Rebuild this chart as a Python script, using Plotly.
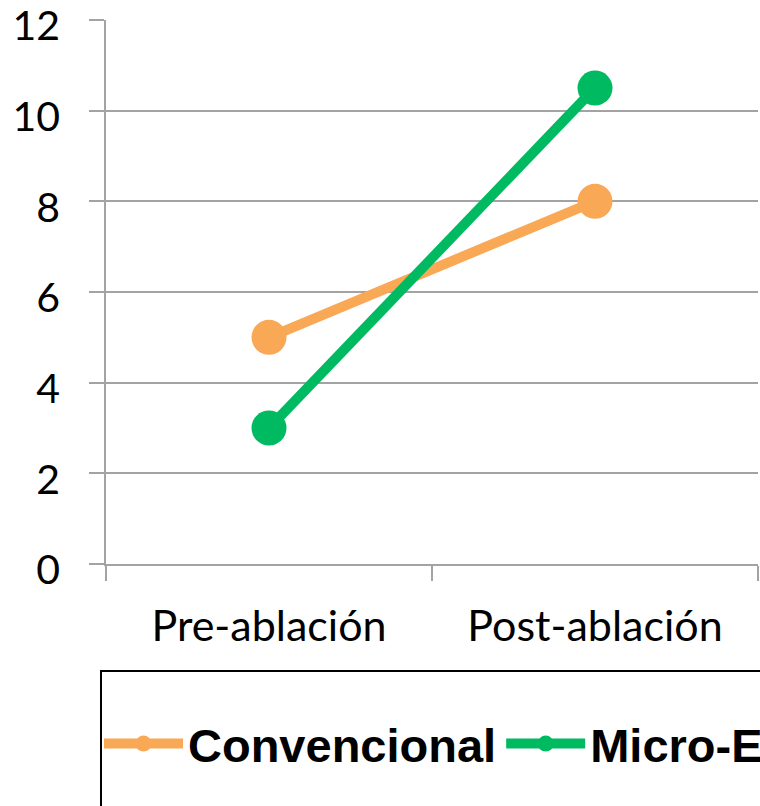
import plotly.graph_objects as go

categories = ["Pre-ablación", "Post-ablación"]
convencional = [5, 8]
micro_e = [3, 10.5]
y_ticks = [0, 2, 4, 6, 8, 10, 12]

ORANGE = "#F9A855"
GREEN = "#00BA61"
GRID = "#A3A3A3"

fig = go.Figure()
fig.add_trace(go.Scatter(
    x=categories, y=convencional, name="Convencional", mode="lines+markers",
    line=dict(color=ORANGE, width=10), marker=dict(color=ORANGE, size=35),
))
fig.add_trace(go.Scatter(
    x=categories, y=micro_e, name="Micro-E", mode="lines+markers",
    line=dict(color=GREEN, width=10), marker=dict(color=GREEN, size=35),
))

# The visible window is 760 px wide; the canvas is wider so the legend
# can run past the right edge (as in the cropped reference).
W, H = 900, 806
ml, mt, mb = 106, 20, 242
pw = 652
mr = W - ml - pw
ph = H - mt - mb

def px_x(p):
    return (p - ml) / pw

def px_y(p):
    return (H - mb - p) / ph

fig.update_layout(
    width=W, height=H,
    margin=dict(l=ml, r=mr, t=mt, b=mb, pad=0),
    paper_bgcolor="white", plot_bgcolor="white",
    font=dict(family="Lato, Carlito, sans-serif", size=41, color="black"),
    showlegend=True,
    legend=dict(
        orientation="h",
        x=px_x(99), xanchor="left",
        y=px_y(744), yanchor="middle",
        font=dict(family="Liberation Sans, Arial, sans-serif", size=47, color="black", weight="bold"),
        itemwidth=79,
        bgcolor="rgba(0,0,0,0)",
        borderwidth=0,
    ),
    shapes=[dict(
        type="rect", xref="paper", yref="paper",
        x0=px_x(101), x1=1.4, y0=-0.8, y1=px_y(671),
        line=dict(color="black", width=2), fillcolor="rgba(0,0,0,0)",
        layer="below",
    )],
)

fig.update_xaxes(
    type="category", range=[-0.5, 1.5], automargin=False,
    tickson="boundaries", ticks="outside", ticklen=15, tickwidth=1.5, tickcolor=GRID,
    showline=True, linecolor=GRID, linewidth=1.5,
    showgrid=False, zeroline=False,
    ticklabelstandoff=24,
    tickfont=dict(family="Lato, Carlito, sans-serif", size=43),
)
fig.update_yaxes(
    range=[0, 12], tickvals=y_ticks, ticktext=[str(v) for v in y_ticks],
    automargin=False,
    ticks="outside", ticklen=15, tickwidth=1.5, tickcolor=GRID,
    showline=True, linecolor=GRID, linewidth=1.5,
    showgrid=True, gridcolor=GRID, gridwidth=1.5,
    zeroline=False,
    ticklabelstandoff=21,
    ticklabelshift=6,
    ticklabeloverflow="allow",
    tickfont=dict(family="Lato, Carlito, sans-serif", size=41),
)

fig.write_html(
    "out.html",
    config={"displayModeBar": False},
    post_script="document.body.style.margin='0';document.body.style.overflow='hidden';",
)
